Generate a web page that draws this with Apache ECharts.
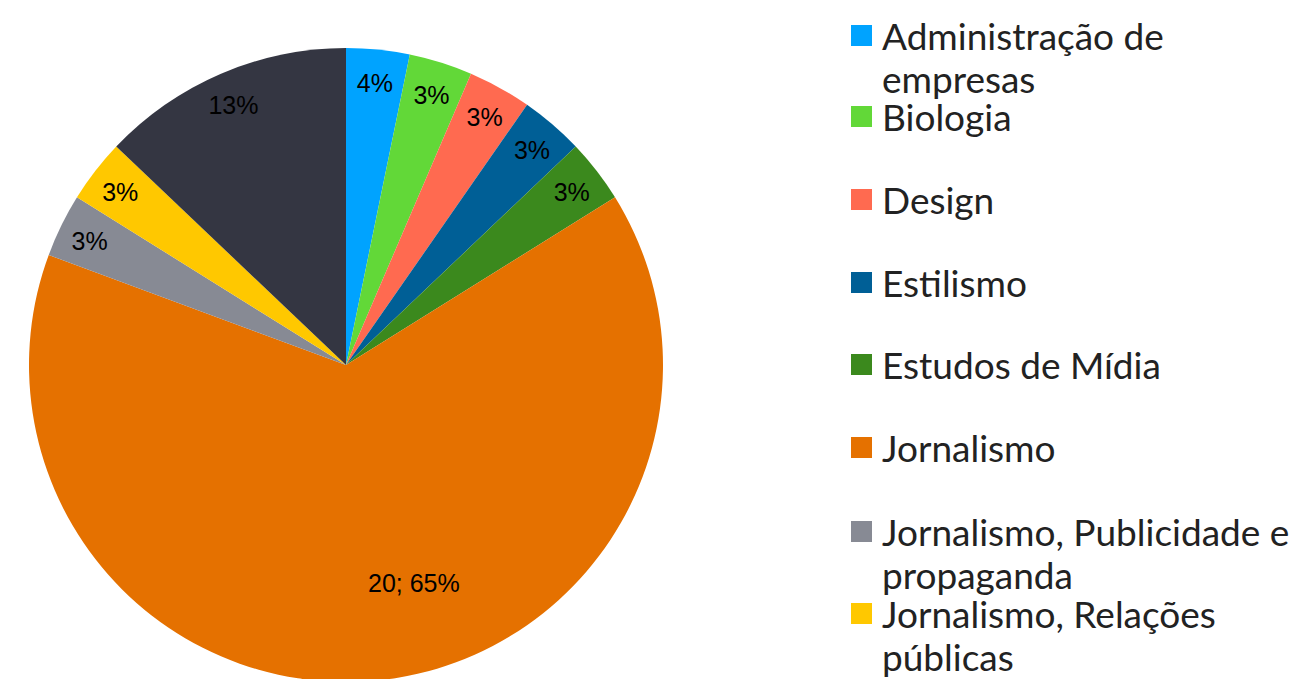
<!DOCTYPE html>
<html>
<head>
<meta charset="utf-8">
<script src="https://cdn.jsdelivr.net/npm/echarts@6/dist/echarts.min.js"></script>
<style>
  html, body { margin: 0; padding: 0; background: #fff; }
  #chart { width: 1301px; height: 679px; }
</style>
</head>
<body>
<div id="chart"></div>
<script>
var categories = [
  'Administração de empresas',
  'Biologia',
  'Design',
  'Estilismo',
  'Estudos de Mídia',
  'Jornalismo',
  'Jornalismo, Publicidade e propaganda',
  'Jornalismo, Relações públicas',
  'Publicidade e propaganda'
];
var counts = [1, 1, 1, 1, 1, 20, 1, 1, 4];
var colors = ['#00a3ff', '#62d838', '#ff6a50', '#005f96', '#3b891d', '#e57100', '#878a94', '#ffc800', '#343642'];

(function() {
  var chart = echarts.init(document.getElementById('chart'), null, { renderer: 'svg' });

  var cx = 346, cy = 365, R = 317;
  var legendFirst = 35.5, legendStep = 82.7;
  var fontSize = 37, lineH = 43, textW = 420;
  var maxCount = Math.max.apply(null, counts);

  // which legend names need two lines
  var ctx = document.createElement('canvas').getContext('2d');
  ctx.font = fontSize + 'px Lato';

  var pieData = categories.map(function(name, i) {
    return { name: name, value: counts[i], itemStyle: { color: colors[i] } };
  });

  // transparent ring on top, only used to put the labels near the rim
  var ringData = categories.map(function(name, i) {
    var item = { name: name, value: counts[i] };
    if (counts[i] === maxCount) {
      item.label = { offset: [39, -66] };
    }
    return item;
  });

  var legends = categories.map(function(name, i) {
    var twoLines = ctx.measureText(name).width > textW;
    var h = twoLines ? 21 + lineH : 21;
    return {
      data: [name],
      orient: 'vertical',
      left: 851,
      top: Math.round(legendFirst + i * legendStep - (twoLines ? 22 : 23)),
      padding: 0,
      // square sits at the top of a taller box so it lines up with line one
      icon: twoLines ? 'path://M0,0L21,0L21,21L0,21Z M0,' + h + 'L0.01,' + h : 'rect',
      itemWidth: 21,
      itemHeight: h,
      selectedMode: false,
      textStyle: {
        fontFamily: 'Lato',
        fontSize: fontSize,
        color: '#222',
        lineHeight: lineH,
        width: textW,
        overflow: 'break',
        padding: [0, 0, 0, 5]
      }
    };
  });

  chart.setOption({
    backgroundColor: '#fff',
    animation: false,
    legend: legends,
    series: [
      {
        type: 'pie',
        center: [cx, cy],
        radius: [0, R],
        startAngle: 90,
        percentPrecision: 0,
        label: { show: false },
        labelLine: { show: false },
        emphasis: { disabled: true },
        data: pieData
      },
      {
        type: 'pie',
        center: [cx, cy],
        radius: [248, R],
        startAngle: 90,
        percentPrecision: 0,
        silent: true,
        itemStyle: { color: 'transparent' },
        label: {
          show: true,
          position: 'inside',
          fontFamily: 'Liberation Sans',
          fontSize: 25,
          color: '#000',
          offset: [0, 2],
          formatter: function(p) {
            return p.value === maxCount ? p.value + '; ' + p.percent + '%' : p.percent + '%';
          }
        },
        labelLine: { show: false },
        emphasis: { disabled: true },
        data: ringData
      }
    ]
  });

  window.addEventListener('resize', function() { chart.resize(); });
})();
</script>
</body>
</html>
